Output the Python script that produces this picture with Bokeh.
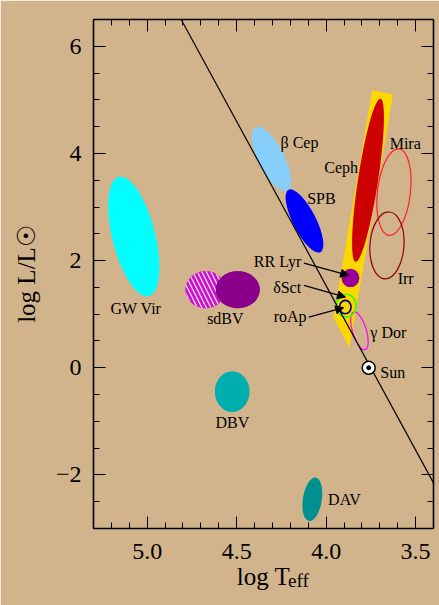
from bokeh.plotting import figure
from bokeh.models import (Range1d, FixedTicker, LinearAxis, Arrow, NormalHead,
                          ColumnDataSource)
from bokeh.core.properties import value
from bokeh.embed import file_html
from bokeh.resources import INLINE

# ---------------- data ----------------
# filled regions: name, log Teff centre, log L centre, width (log T), height (log L), angle (deg)
fill_names  = ["GW Vir", "beta Cep", "SPB", "sdBV hot", "sdBV", "DBV", "DAV", "Ceph", "RR Lyr"]
fill_logT   = [5.075, 4.306, 4.121, 4.674, 4.494, 4.525, 4.077, 3.766, 3.864]
fill_logL   = [2.45, 3.90, 2.74, 1.457, 1.457, -0.446, -2.455, 3.50, 1.677]
fill_w      = [0.240, 0.145, 0.128, 0.223, 0.246, 0.194, 0.106, 0.112, 0.100]
fill_h      = [2.295, 1.325, 1.306, 0.690, 0.690, 0.760, 0.820, 3.080, 0.343]
fill_angle  = [14, 27, 27, 0, 0, 0, -8.7, -8.7, 0]
fill_colors = ["#00FFFF", "#87CEFA", "#0000FF", "#CC11CC", "#8B008B", "#00AEAE",
               "#009090", "#CC0000", "#990099"]

# outlined regions
ring_names  = ["Mira", "Irr", "gamma Dor", "delta Sct", "roAp"]
ring_logT   = [3.621, 3.660, 3.814, 3.888, 3.893]
ring_logL   = [3.278, 2.284, 0.690, 1.159, 1.133]
ring_w      = [0.184, 0.190, 0.078, 0.110, 0.065]
ring_h      = [1.623, 1.250, 0.735, 0.424, 0.248]
ring_angle  = [-6.6, -4, 17, 0, 0]
ring_colors = ["#FF2020", "#8B0000", "#FF00FF", "#33FF00", "#000099"]

# classical instability strip
strip_logT = [3.743, 3.626, 3.870, 3.959]
strip_logL = [5.175, 5.100, 0.380, 0.940]

# main sequence line
ms_logT = [4.81, 3.40]
ms_logL = [6.50, -2.15]

# Sun
sun_logT = [3.762]
sun_logL = [0.0]

# labels
lab_text = ["\u03b2 Cep", "Ceph", "Mira", "SPB", "GW Vir", "sdBV", "RR Lyr", "\u03b4Sct",
            "roAp", "\u03b3 Dor", "Irr", "Sun", "DBV", "DAV"]
lab_logT = [4.255, 4.010, 3.645, 4.106, 5.205, 4.665, 4.404, 4.296,
            4.293, 3.753, 3.600, 3.697, 4.618, 3.989]
lab_logL = [4.21, 3.73, 4.19, 3.155, 1.10, 0.916, 1.99, 1.506,
            0.959, 0.666, 1.662, -0.08, -1.013, -2.455]

# arrows (label -> region)
arr_x0 = [4.124, 4.124, 4.097]
arr_y0 = [1.954, 1.537, 0.946]
arr_x1 = [3.874, 3.892, 3.902]
arr_y1 = [1.724, 1.319, 1.121]

# axes ticks
x_major = [5.0, 4.5, 4.0, 3.5]
x_labels = ["5.0", "4.5", "4.0", "3.5"]
x_minor = [round(3.4 + 0.1 * i, 1) for i in range(20)]
y_major = [-2, 0, 2, 4, 6]
y_labels = ["\u22122", "0", "2", "4", "6"]
y_minor = [-3 + 0.5 * i for i in range(20)]
# axis titles
x_title = "log T"
x_title_sub = "eff"
x_title_sub_at = 4.155
y_title = "log L/L\u2609"

TAN = "#D2B48C"
SERIF = "Liberation Serif"

p = figure(width=439, height=605, x_range=Range1d(5.30, 3.40), y_range=Range1d(-3.0, 6.5),
           output_backend="svg", toolbar_location=None,
           min_border_left=93, min_border_right=6, min_border_top=19, min_border_bottom=77,
           background_fill_color=TAN, border_fill_color=TAN, outline_line_color=None)
p.grid.visible = False

def style_axis(ax, show_labels):
    ax.axis_line_color = "black"
    ax.axis_line_width = 1.6
    ax.major_tick_in = 12
    ax.major_tick_out = 0
    ax.minor_tick_in = 6
    ax.minor_tick_out = 0
    ax.major_tick_line_color = "black"
    ax.minor_tick_line_color = "black"
    ax.major_label_text_font = SERIF
    ax.axis_label_text_font = SERIF
    ax.axis_label_text_font_style = "normal"
    ax.axis_label_text_color = "black"
    ax.major_label_text_color = "black"
    if not show_labels:
        ax.major_label_text_font_size = "1px"
        ax.major_label_text_color = None
        ax.major_label_standoff = 0

xa = p.xaxis[0]
xa.ticker = FixedTicker(ticks=x_major, minor_ticks=x_minor)
xa.major_label_overrides = {k: v for k, v in zip(x_major, x_labels)}
style_axis(xa, True)
xa.major_label_text_font_size = "24px"
xa.major_label_standoff = 15

# second bottom axis: carries the "log T" title with the "eff" subscript as a tick label
xb = LinearAxis(ticker=FixedTicker(ticks=[x_title_sub_at], minor_ticks=[]))
xb.major_label_overrides = {x_title_sub_at: x_title_sub}
xb.axis_line_color = None
xb.major_tick_line_color = None
xb.minor_tick_line_color = None
xb.major_tick_in = 0
xb.major_tick_out = 0
xb.minor_tick_in = 0
xb.minor_tick_out = 0
xb.major_label_text_font = SERIF
xb.major_label_text_font_size = "19px"
xb.major_label_text_color = "black"
xb.major_label_standoff = 8
xb.axis_label = x_title
xb.axis_label_text_font = SERIF
xb.axis_label_text_font_style = "normal"
xb.axis_label_text_font_size = "25px"
xb.axis_label_text_color = "black"
xb.axis_label_standoff = -31
p.add_layout(xb, "below")

ya = p.yaxis[0]
ya.ticker = FixedTicker(ticks=y_major, minor_ticks=y_minor)
ya.major_label_overrides = {k: v for k, v in zip(y_major, y_labels)}
style_axis(ya, True)
ya.major_label_text_font_size = "24px"
ya.major_label_standoff = 12
ya.major_label_orientation = "horizontal"
ya.axis_label = y_title
ya.axis_label_text_font_size = "25px"
ya.axis_label_standoff = 13

top = LinearAxis(ticker=FixedTicker(ticks=x_major, minor_ticks=x_minor))
style_axis(top, False)
p.add_layout(top, "above")
right = LinearAxis(ticker=FixedTicker(ticks=y_major, minor_ticks=y_minor))
style_axis(right, False)
p.add_layout(right, "right")

# instability strip
p.patch(strip_logT, strip_logL, fill_color="#FFD700", line_color=None)

fsrc = ColumnDataSource(dict(x=fill_logT, y=fill_logL, w=fill_w, h=fill_h,
                             a=fill_angle, c=fill_colors))
p.ellipse(x="x", y="y", width="w", height="h", angle="a", angle_units="deg",
          fill_color="c", line_color=None, source=fsrc)
# hatching on the hotter sdBV region
p.ellipse(x=[fill_logT[3]], y=[fill_logL[3]], width=[fill_w[3]], height=[fill_h[3]],
          fill_color=fill_colors[3], line_color=None,
          hatch_pattern="left_diagonal_line", hatch_color="white", hatch_scale=9,
          hatch_weight=1.3, hatch_alpha=0.85)
p.ellipse(x=[fill_logT[4]], y=[fill_logL[4]], width=[fill_w[4]], height=[fill_h[4]],
          fill_color=fill_colors[4], line_color=None)

rsrc = ColumnDataSource(dict(x=ring_logT, y=ring_logL, w=ring_w, h=ring_h,
                             a=ring_angle, c=ring_colors, lw=[1.2, 1.2, 1.2, 1.6, 1.6]))
p.ellipse(x="x", y="y", width="w", height="h", angle="a", angle_units="deg",
          fill_color=None, line_color="c", line_width="lw", source=rsrc)

p.line(ms_logT, ms_logL, line_color="black", line_width=1.2)

p.scatter(sun_logT, sun_logL, size=13, fill_color="white", line_color="black", line_width=1.5)
p.scatter(sun_logT, sun_logL, size=4, fill_color="black", line_color="black")

p.text(x=lab_logT, y=lab_logL, text=lab_text, text_font=value(SERIF), text_font_size="16px",
       text_baseline="middle", text_align="left", text_color="black")

for x0, y0, x1, y1 in zip(arr_x0, arr_y0, arr_x1, arr_y1):
    p.add_layout(Arrow(end=NormalHead(size=8, fill_color="black", line_color="black"),
                       x_start=x0, y_start=y0, x_end=x1, y_end=y1,
                       line_color="black", line_width=1.2))

open("out.html", "w").write(file_html(p, INLINE))
